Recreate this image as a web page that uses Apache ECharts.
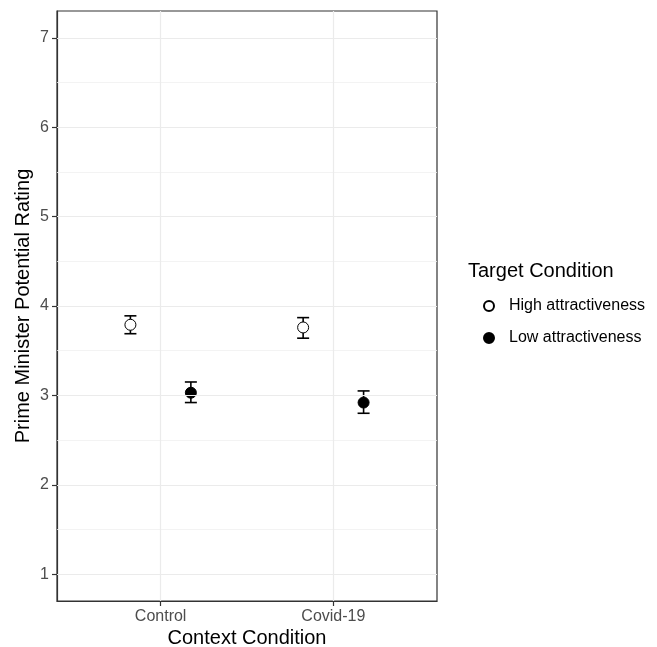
<!DOCTYPE html>
<html>
<head>
<meta charset="utf-8">
<script src="https://cdn.jsdelivr.net/npm/echarts@6/dist/echarts.min.js"></script>
<style>
html,body{margin:0;padding:0;background:#fff;}
#chart{width:657px;height:647px;}
</style>
</head>
<body>
<div id="chart"></div>
<script>
// ---- data ----
var categories = ['Control', 'Covid-19'];
var seriesNames = ['High attractiveness', 'Low attractiveness'];
var highMean = [3.79, 3.76];
var highLower = [3.69, 3.64];
var highUpper = [3.89, 3.87];
var lowMean = [3.03, 2.92];
var lowLower = [2.92, 2.80];
var lowUpper = [3.15, 3.05];
var yTicks = [1, 2, 3, 4, 5, 6, 7];
var yMinorTicks = [1.5, 2.5, 3.5, 4.5, 5.5, 6.5];

var dodge = 0.175;
var catPos = categories.map(function (c, i) { return i + 1; });

function pts(means, off) {
  return means.map(function (m, i) { return [catPos[i] + off, m]; });
}
function errs(lo, hi, off) {
  return lo.map(function (l, i) { return [catPos[i] + off, l, hi[i]]; });
}

function errRender(params, api) {
  var x = api.value(0);
  var p1 = api.coord([x, api.value(1)]);
  var p2 = api.coord([x, api.value(2)]);
  var hw = 6;
  var st = { stroke: '#000', lineWidth: 1.6 };
  return {
    type: 'group',
    children: [
      { type: 'line', shape: { x1: p1[0], y1: p1[1], x2: p2[0], y2: p2[1] }, style: st },
      { type: 'line', shape: { x1: p1[0] - hw, y1: p1[1], x2: p1[0] + hw, y2: p1[1] }, style: st },
      { type: 'line', shape: { x1: p2[0] - hw, y1: p2[1], x2: p2[0] + hw, y2: p2[1] }, style: st }
    ]
  };
}

var gridMarkData = [];
yTicks.forEach(function (v) {
  gridMarkData.push({ yAxis: v, lineStyle: { color: '#ebebeb', width: 1.2, type: 'solid' } });
});
yMinorTicks.forEach(function (v) {
  gridMarkData.push({ yAxis: v, lineStyle: { color: '#f0f0f0', width: 0.8, type: 'solid' } });
});
catPos.forEach(function (v) {
  gridMarkData.push({ xAxis: v, lineStyle: { color: '#ebebeb', width: 1.2, type: 'solid' } });
});

var chart = echarts.init(document.getElementById('chart'), null, { renderer: 'canvas' });
var option = {
  animation: false,
  backgroundColor: '#fff',
  title: {
    text: 'Target Condition',
    left: 468,
    top: 261,
    textStyle: { fontFamily: 'Liberation Sans, Arial', fontSize: 20, fontWeight: 'normal', color: '#000' },
    padding: 0
  },
  legend: {
    orient: 'vertical',
    left: 478,
    top: 293,
    itemWidth: 10,
    itemHeight: 10,
    itemGap: 16,
    icon: 'circle',
    data: seriesNames,
    textStyle: { fontFamily: 'Liberation Sans, Arial', fontSize: 16, color: '#000', padding: [0, 0, 0, 10] }
  },
  grid: {
    left: 57, right: 220, top: 11, bottom: 46,
    outerBoundsMode: 'none',
    containLabel: false,
    show: true, borderColor: '#333', borderWidth: 1.2, backgroundColor: 'transparent'
  },
  xAxis: {
    type: 'value',
    min: 0.4, max: 2.6,
    name: 'Context Condition',
    nameLocation: 'middle',
    nameGap: 27,
    nameMoveOverlap: false,
    nameTextStyle: { fontFamily: 'Liberation Sans, Arial', fontSize: 20, color: '#000' },
    axisLine: { show: true, lineStyle: { color: '#333', width: 1.2 } },
    axisTick: { show: true, length: 5, lineStyle: { color: '#333', width: 1.2 }, customValues: catPos },
    axisLabel: {
      show: true, margin: 8, customValues: catPos,
      fontFamily: 'Liberation Sans, Arial', fontSize: 16, color: '#4d4d4d',
      formatter: function (v) { return categories[Math.round(v) - 1] || ''; }
    },
    splitLine: { show: false }
  },
  yAxis: {
    type: 'value',
    min: 0.7, max: 7.3,
    name: 'Prime Minister Potential Rating',
    nameLocation: 'middle',
    nameGap: 24,
    nameMoveOverlap: false,
    nameTextStyle: { fontFamily: 'Liberation Sans, Arial', fontSize: 20, color: '#000' },
    axisLine: { show: true, lineStyle: { color: '#333', width: 1.2 } },
    axisTick: { show: true, length: 5, lineStyle: { color: '#333', width: 1.2 }, customValues: yTicks },
    axisLabel: {
      show: true, margin: 8, customValues: yTicks,
      fontFamily: 'Liberation Sans, Arial', fontSize: 16, color: '#4d4d4d'
    },
    splitLine: { show: false }
  },
  series: [
    {
      name: '_grid',
      type: 'scatter',
      data: [],
      silent: true,
      z: 0,
      markLine: { silent: true, symbol: 'none', label: { show: false }, animation: false, data: gridMarkData }
    },
    {
      type: 'custom',
      name: 'errHigh',
      renderItem: errRender,
      data: errs(highLower, highUpper, -dodge),
      z: 3
    },
    {
      type: 'custom',
      name: 'errLow',
      renderItem: errRender,
      data: errs(lowLower, lowUpper, dodge),
      z: 3
    },
    {
      name: seriesNames[0],
      type: 'scatter',
      symbol: 'circle',
      symbolSize: 11,
      data: pts(highMean, -dodge),
      itemStyle: { color: '#fff', borderColor: '#000', borderWidth: 1, opacity: 1 },
      z: 4
    },
    {
      name: seriesNames[1],
      type: 'scatter',
      symbol: 'circle',
      symbolSize: 11,
      data: pts(lowMean, dodge),
      itemStyle: { color: '#000', borderColor: '#000', borderWidth: 1, opacity: 1 },
      z: 4
    }
  ]
};
chart.setOption(option);
</script>
</body>
</html>
